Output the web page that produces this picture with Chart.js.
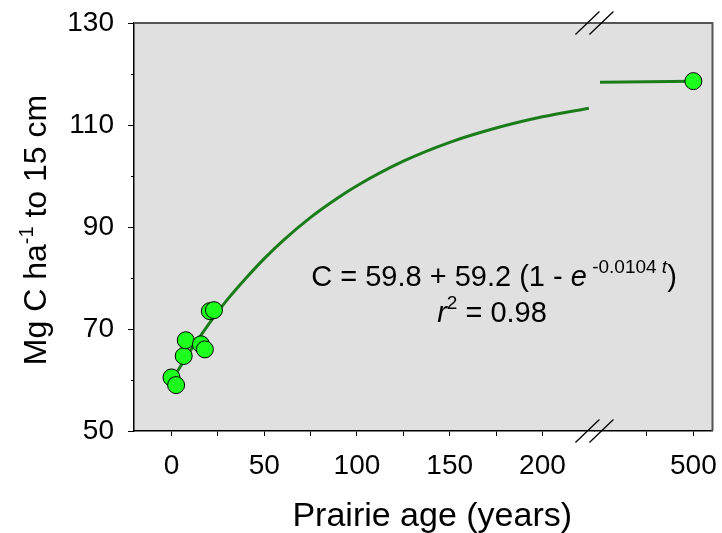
<!DOCTYPE html>
<html>
<head>
<meta charset="utf-8">
<script src="https://cdn.jsdelivr.net/npm/chart.js@4.4.1/dist/chart.umd.min.js"></script>
<style>
  html, body { margin: 0; padding: 0; background: #fff; }
  #wrap { width: 722px; height: 533px; }
</style>
</head>
<body>
<div id="wrap"><canvas id="c"></canvas></div>
<script>
/* Prairie soil carbon vs. age, broken x axis */

// observed plots (young prairies) and the old remnant
const obsAge = [0, 2.5, 6.6, 7.7, 15.9, 18, 20.7, 22.9];
const obsCarbon = [60.5, 59.0, 64.7, 67.8, 67.0, 66.0, 73.5, 73.7];
const oldAge = [500];
const oldCarbon = [118.6];

// fitted curve
const fitAge = [0, 10, 20, 30, 40, 50, 60, 75, 90, 100, 125, 150, 175, 200, 225];
const fitCarbon = [59.8, 65.6, 70.9, 75.7, 79.9, 83.8, 87.3, 91.9, 95.8, 98.1, 102.9, 106.6, 109.4, 111.6, 113.3];
const fitOldAge = [400, 500];
const fitOldCarbon = [118.4, 118.6];

// axes
const xTicksLeft = [0, 25, 50, 75, 100, 125, 150, 175, 200];
const xLabelsLeft = [0, 50, 100, 150, 200];
const xTicksRight = [450, 500];
const xLabelsRight = [500];
const yTicks = [50, 70, 90, 110, 130];
const yMinor = [60, 80, 100, 120];

const FONT = "'Liberation Sans', Arial, Helvetica, sans-serif";
const LINE = '#1a7d1a';
const DOT = '#1cff1c';

const toPts = (xs, ys) => xs.map((x, i) => ({ x, y: ys[i] }));

// plot background, frame, minor ticks, axis break, titles and equation
const decor = {
  id: 'decor',
  beforeDraw(chart) {
    const { ctx, chartArea: a } = chart;
    ctx.save();
    ctx.fillStyle = '#e0e0e0';
    ctx.fillRect(a.left, a.top, a.right - a.left, a.bottom - a.top);
    ctx.restore();
  },
  afterDatasetsDraw(chart) {
    const { ctx, chartArea: a, scales } = chart;
    ctx.save();
    // top and right frame
    ctx.strokeStyle = '#555';
    ctx.lineWidth = 2;
    ctx.beginPath();
    ctx.moveTo(a.left, a.top);
    ctx.lineTo(a.right, a.top);
    ctx.lineTo(a.right, a.bottom);
    ctx.stroke();

    // minor y ticks
    ctx.strokeStyle = '#000';
    ctx.lineWidth = 1;
    yMinor.forEach((v) => {
      const py = Math.round(scales.y.getPixelForValue(v)) + 0.5;
      ctx.beginPath();
      ctx.moveTo(a.left - 3, py);
      ctx.lineTo(a.left, py);
      ctx.stroke();
    });

    // axis break marks
    const bx = scales.xL.right;
    ctx.lineWidth = 1.3;
    [a.top, a.bottom].forEach((yy) => {
      [-7, 7].forEach((dx) => {
        ctx.beginPath();
        ctx.moveTo(bx + dx - 12, yy + 11.5);
        ctx.lineTo(bx + dx + 12, yy - 11.5);
        ctx.stroke();
      });
    });

    ctx.fillStyle = '#000';
    // x title
    ctx.font = `34px ${FONT}`;
    ctx.textAlign = 'center';
    ctx.textBaseline = 'alphabetic';
    ctx.fillText('Prairie age (years)', (a.left + a.right) / 2 + 9, 526);

    // y title with superscript
    ctx.save();
    ctx.translate(46, (a.top + a.bottom) / 2 + 3);
    ctx.rotate(-Math.PI / 2);
    const p1 = 'Mg C ha', sup = '-1', p2 = ' to 15 cm';
    ctx.font = `32px ${FONT}`;
    const w1 = ctx.measureText(p1).width, w2 = ctx.measureText(p2).width;
    ctx.font = `20px ${FONT}`;
    const ws = ctx.measureText(sup).width;
    let x0 = -(w1 + ws + w2) / 2;
    ctx.textAlign = 'left';
    ctx.font = `32px ${FONT}`;
    ctx.fillText(p1, x0, 0);
    ctx.font = `20px ${FONT}`;
    ctx.fillText(sup, x0 + w1, -13);
    ctx.font = `32px ${FONT}`;
    ctx.fillText(p2, x0 + w1 + ws, 0);
    ctx.restore();

    // equation
    const parts = [
      { t: 'C = 59.8 + 59.2 (1 - ', f: `29px ${FONT}`, dy: 0 },
      { t: 'e', f: `italic 29px ${FONT}`, dy: 0 },
      { t: ' -0.0104 ', f: `19px ${FONT}`, dy: -13 },
      { t: 't', f: `italic 19px ${FONT}`, dy: -13 },
      { t: ')', f: `29px ${FONT}`, dy: 0 },
    ];
    let total = 0;
    parts.forEach((p) => { ctx.font = p.f; p.w = ctx.measureText(p.t).width; total += p.w; });
    const cx = a.left + 360, by = 286;
    let px = cx - total / 2;
    ctx.textAlign = 'left';
    parts.forEach((p) => { ctx.font = p.f; ctx.fillText(p.t, px, by + p.dy); px += p.w; });

    const l2 = [
      { t: 'r', f: `italic 29px ${FONT}`, dy: 0 },
      { t: '2', f: `19px ${FONT}`, dy: -13 },
      { t: ' = 0.98', f: `29px ${FONT}`, dy: 0 },
    ];
    total = 0;
    l2.forEach((p) => { ctx.font = p.f; p.w = ctx.measureText(p.t).width; total += p.w; });
    px = cx - 2 - total / 2;
    l2.forEach((p) => { ctx.font = p.f; ctx.fillText(p.t, px, by + 36 + p.dy); px += p.w; });
    ctx.restore();
  },
};

const xCommon = {
  type: 'linear',
  position: 'bottom',
  stack: 'age',
  grid: { drawOnChartArea: false, tickLength: 5, tickColor: '#000', tickWidth: 1 },
  border: { display: true, color: '#000', width: 1.5 },
  ticks: { color: '#000', font: { family: FONT, size: 28 }, padding: 13, maxRotation: 0, autoSkip: false },
  afterFit: (s) => { s.height = 102; s.paddingLeft = 0; s.paddingRight = 0; },
};

new Chart(document.getElementById('c'), {
  data: {
    datasets: [
      {
        type: 'line', xAxisID: 'xL', data: toPts(fitAge, fitCarbon),
        borderColor: LINE, borderWidth: 3, pointRadius: 0, cubicInterpolationMode: 'monotone', order: 3,
      },
      {
        type: 'line', xAxisID: 'xR', data: toPts(fitOldAge, fitOldCarbon),
        borderColor: LINE, borderWidth: 3, pointRadius: 0, order: 3,
      },
      {
        type: 'scatter', xAxisID: 'xL', data: toPts(obsAge, obsCarbon),
        backgroundColor: DOT, borderColor: '#000', borderWidth: 1, pointRadius: 8.5, order: 1,
      },
      {
        type: 'scatter', xAxisID: 'xR', data: toPts(oldAge, oldCarbon),
        backgroundColor: DOT, borderColor: '#000', borderWidth: 1, pointRadius: 8.5, order: 1,
      },
    ],
  },
  options: {
    responsive: true,
    maintainAspectRatio: false,
    animation: false,
    layout: { padding: { top: 23, right: 5, left: 0, bottom: 0 } },
    plugins: { legend: { display: false }, tooltip: { enabled: false } },
    scales: {
      xL: {
        ...xCommon,
        min: -20.2, max: 228, stackWeight: 464,
        afterBuildTicks: (s) => { s.ticks = xTicksLeft.map((v) => ({ value: v })); },
        ticks: { ...xCommon.ticks, callback: (v) => (xLabelsLeft.includes(v) ? String(v) : '') },
      },
      xR: {
        ...xCommon,
        min: 394, max: 520.5, stackWeight: 119,
        afterBuildTicks: (s) => { s.ticks = xTicksRight.map((v) => ({ value: v })); },
        ticks: { ...xCommon.ticks, callback: (v) => (xLabelsRight.includes(v) ? String(v) : '') },
      },
      y: {
        type: 'linear',
        min: 50, max: 130,
        afterBuildTicks: (s) => { s.ticks = yTicks.map((v) => ({ value: v })); },
        grid: { drawOnChartArea: false, tickLength: 6, tickColor: '#000' },
        border: { display: true, color: '#000', width: 1.5 },
        ticks: { color: '#000', font: { family: FONT, size: 28 }, padding: 14 },
        afterFit: (s) => { s.width = 134; s.paddingTop = 0; s.paddingBottom = 0; },
      },
    },
  },
  plugins: [decor],
});
</script>
</body>
</html>
